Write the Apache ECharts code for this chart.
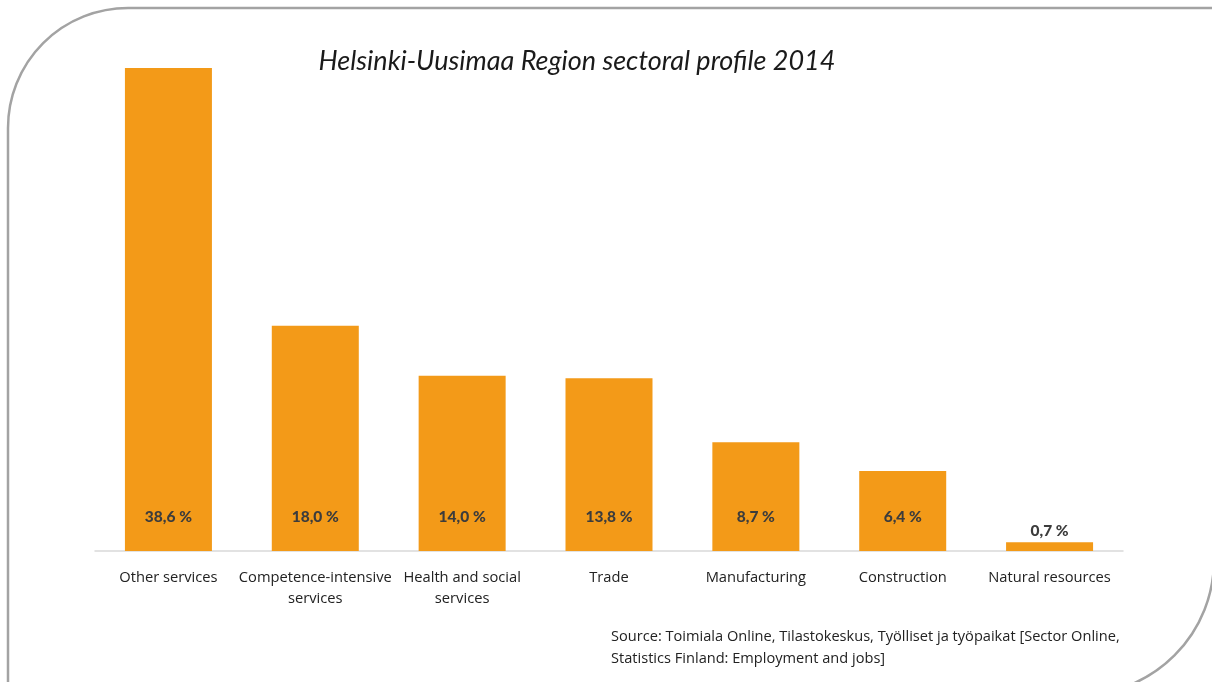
<!DOCTYPE html>
<html>
<head>
<meta charset="utf-8">
<script src="https://cdn.jsdelivr.net/npm/echarts@6/dist/echarts.min.js"></script>
<style>
  html, body { margin: 0; padding: 0; background: #fff; }
  #chart { width: 1212px; height: 682px; }
</style>
</head>
<body>
<div id="chart"></div>
<script>
// sectors, left to right
const categories = [
  'Other services',
  'Competence-intensive\nservices',
  'Health and social\nservices',
  'Trade',
  'Manufacturing',
  'Construction',
  'Natural resources'
];
// share of jobs, %
const shares = [38.6, 18.0, 14.0, 13.8, 8.7, 6.4, 0.7];

const BAR_COLOR = '#F39A18';
const LABEL_COLOR = '#3c3c3c';

const chart = echarts.init(document.getElementById('chart'), null, { renderer: 'canvas' });

const seriesData = shares.map(function (v) {
  // tiny bar: put label on top
  if (v < 2) {
    return { value: v, label: { position: 'top', distance: 3 } };
  }
  return v;
});

const option = {
  backgroundColor: '#fff',
  animation: false,
  title: {
    text: 'Helsinki-Uusimaa Region sectoral profile 2014',
    left: 572,
    top: 43,
    textAlign: 'center',
    textStyle: {
      fontFamily: 'Lato',
      fontStyle: 'italic',
      fontWeight: 'normal',
      fontSize: 27,
      color: '#1a1a1a'
    }
  },
  grid: {
    left: 95,
    right: 89,
    top: 68,
    bottom: 131
  },
  xAxis: {
    type: 'category',
    data: categories,
    axisTick: { show: false },
    axisLine: { lineStyle: { color: '#d9d9d9', width: 1.5 } },
    axisLabel: {
      interval: 0,
      margin: 16,
      color: '#222',
      fontFamily: 'Open Sans',
      fontSize: 14.7,
      lineHeight: 21
    }
  },
  yAxis: {
    type: 'value',
    min: 0,
    max: 38.6,
    show: false,
    splitLine: { show: false }
  },
  series: [
    {
      type: 'bar',
      barWidth: 87,
      itemStyle: { color: BAR_COLOR },
      label: {
        show: true,
        position: 'insideBottom',
        distance: 26,
        color: LABEL_COLOR,
        fontFamily: 'Lato',
        fontWeight: 900,
        fontSize: 15.5,
        formatter: function (p) {
          return p.value.toFixed(1).replace('.', ',') + ' %';
        }
      },
      data: seriesData
    }
  ],
  graphic: [
    {
      type: 'rect',
      silent: true,
      z: -1,
      shape: { x: 8, y: 8, width: 1206, height: 687, r: [120, 0, 135, 0] },
      style: { fill: null, stroke: '#a3a3a3', lineWidth: 2.5 }
    },
    {
      type: 'text',
      left: 611,
      top: 626,
      style: {
        text: 'Source: Toimiala Online, Tilastokeskus, Työlliset ja työpaikat [Sector Online,\nStatistics Finland: Employment and jobs]',
        fill: '#222',
        font: '14.6px "Open Sans"',
        lineHeight: 22
      }
    }
  ]
};

chart.setOption(option);
</script>
</body>
</html>
